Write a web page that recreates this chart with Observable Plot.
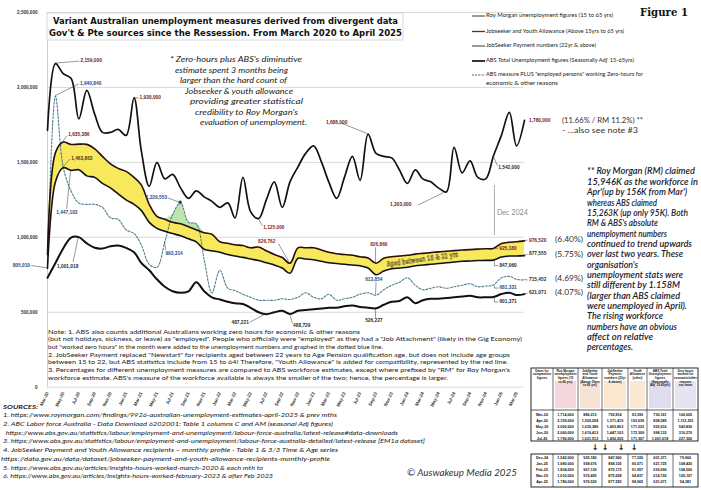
<!DOCTYPE html>
<html><head><meta charset="utf-8">
<script src="https://cdn.jsdelivr.net/npm/d3@7"></script>
<script src="https://cdn.jsdelivr.net/npm/@observablehq/plot@0.6"></script>
<style>body{margin:0;background:#fff}#c{width:701px;height:490px;overflow:hidden}</style>
</head><body><div id="c"></div>
<script>
// ---- data (monthly, Mar-2020 .. Apr-2025) ----
const startMonth = new Date(Date.UTC(2020, 2, 1));
const endMonth = new Date(Date.UTC(2025, 4, 1));
const dates = d3.utcMonth.range(startMonth, endMonth); // 62 months

const royMorgan = [1714000,2159000,2092000,2060000,1790000,1980000,1820000,1700000,1700000,1720000,
 1680000,1930000,1580000,1340000,1500000,1390000,1420000,1330000,1260000,1310000,
 1270000,1240000,1200000,1230000,1130000,1400000,1170000,1125000,1250000,1370000,
 1200000,1370000,1470000,1560000,1610000,1500000,1370000,1260000,1400000,1540000,
 1380000,1688000,1560000,1540000,1530000,1450000,1360000,1450000,1390000,1370000,
 1330000,1303000,1600000,1430000,1510000,1400000,1390000,1542000,1680000,1834000,
 1610000,1780000];
const jobseekerYouth = [886213,1565058,1635386,1619412,1621512,1620000,1590000,1540000,1490000,1460000,
 1440000,1400000,1350000,1220000,1140000,1120000,1100000,1090000,1070000,1050000,
 1030000,1020000,970000,960000,950000,945000,930000,935000,910000,885000,
 865000,826762,930000,930000,930000,915000,900000,890000,885000,880000,
 870000,862000,826860,860000,870000,875000,880000,888000,893000,898000,
 903000,907000,911000,915000,918000,921000,924000,925180,958676,967130,
 970495,976520];
const jobseeker = [792814,1371419,1463863,1447103,1450205,1410000,1400000,1360000,1330000,1290000,
 1250000,1220000,1180000,1100000,1060000,1040000,1025000,1010000,990000,970000,
 920000,910000,900000,885000,875000,866000,855000,845000,830000,815000,
 795000,760000,860000,855000,850000,840000,830000,825000,820000,815000,
 810000,795000,750000,775000,790000,795000,800000,810000,815000,820000,
 825000,830000,835000,840000,842000,845000,846000,847960,868105,875173,
 875658,877555];
const absPlusZeroHours = [830766,1940840,1469446,1308403,1228318,1220000,1220000,1200000,1130000,1120000,
 1050000,1025000,950000,820000,800000,970000,1150000,1229553,1100000,1090000,
 850000,630000,780000,660000,645000,620000,600000,580000,580000,580000,
 590000,585000,600000,630000,600000,590000,620000,580000,590000,600000,
 620000,630000,613854,650000,680000,700000,730000,680000,650000,660000,
 670000,660000,670000,680000,690000,670000,675000,681331,730145,739196,
 719833,715452];
const absTotal = [730161,828589,925616,998133,1001018,960000,930000,925000,940000,945000,
 930000,900000,830000,780000,720000,670000,640000,630000,640000,700000,
 640000,600000,585000,570000,560000,555000,530000,500000,487221,500000,
 510000,488729,510000,515000,520000,525000,530000,530000,540000,545000,
 535000,530000,526227,550000,570000,575000,600000,560000,580000,590000,
 590000,595000,600000,605000,610000,600000,600000,601371,621725,630696,
 614726,621071];
const yTicks = [0, 500000, 1000000, 1500000, 2000000, 2500000];
const xTicks = dates.filter((d, i) => i % 2 === 0 && i <= 60);
const endPercents = {jsya: "(6.40%)", js: "(5.75%)", absPlus: "(4.69%)", abs: "(4.07%)"};

const rows = dates.map((d, i) => ({date: d, rm: royMorgan[i], jsya: jobseekerYouth[i], js: jobseeker[i],
  absPlus: absPlusZeroHours[i], abs: absTotal[i]}));
const greenRows = rows.slice(15, 21);

const fmt = d3.format(",");
const plot = Plot.plot({
  width: 701, height: 490,
  marginLeft: 47, marginRight: 177, marginTop: 12, marginBottom: 103.3,
  style: {background: "#fff", overflow: "visible"},
  x: {type: "utc", domain: [dates[0], dates[61]], axis: null},
  y: {domain: [0, 2500000], axis: null},
  marks: [
    Plot.ruleY(yTicks, {stroke: "#d2d2d2", strokeWidth: 0.8}),
    Plot.ruleX([dates[0]], {stroke: "#c4c4c4", strokeWidth: 0.8}),
    Plot.areaY(rows, {x: "date", y1: "js", y2: "jsya", fill: "#f7e85c", curve: "catmull-rom"}),
    Plot.areaY(greenRows, {x: "date", y1: "jsya", y2: d => Math.max(d.jsya, d.absPlus), fill: "#bde6ad", curve: "catmull-rom"}),
    Plot.line(rows, {x: "date", y: "absPlus", stroke: "#4f7f8e", strokeWidth: 1.1, strokeDasharray: "2,1.6", curve: "catmull-rom"}),
    Plot.line(rows, {x: "date", y: "jsya", stroke: "#2a0d0d", strokeWidth: 1.6, curve: "catmull-rom"}),
    Plot.line(rows, {x: "date", y: "js", stroke: "#111", strokeWidth: 1.6, curve: "catmull-rom"}),
    Plot.line(rows, {x: "date", y: "abs", stroke: "#111", strokeWidth: 2, curve: "catmull-rom"}),
    Plot.line(rows, {x: "date", y: "rm", stroke: "#111", strokeWidth: 1.7, curve: "catmull-rom"}),
    Plot.text(yTicks, {x: () => dates[0], y: d => d, text: d => fmt(d), textAnchor: "end", dx: -10,
      fontSize: 4.6, fontWeight: "bold", fill: "#333", fontFamily: "Liberation Sans"}),
    Plot.text(xTicks, {x: d => d, y: () => 0, text: d => d3.utcFormat("%b-%y")(d), rotate: -65, textAnchor: "end",
      dy: 5, fontSize: 4.6, fontWeight: "bold", fill: "#333", fontFamily: "Liberation Sans"})
  ]
});
document.getElementById("c").appendChild(plot);

const svg = d3.select(plot);
const xs = plot.scale("x"), ys = plot.scale("y");
const X = d => xs.apply(d), Y = v => ys.apply(v);
const g = svg.append("g").attr("text-anchor", "start");

function txt(s, x, y, o = {}) {
  const t = g.append("text").attr("x", x).attr("y", y).text(s)
    .attr("font-family", o.ff || "Lato, sans-serif").attr("font-size", o.fs || 6)
    .attr("fill", o.fill || "#222").attr("dominant-baseline", "middle")
    .attr("text-anchor", o.anchor || "start");
  if (o.fw) t.attr("font-weight", o.fw);
  if (o.fi) t.attr("font-style", "italic");
  if (o.w) t.attr("textLength", o.w).attr("lengthAdjust", "spacingAndGlyphs");
  if (o.rot) t.attr("transform", `rotate(${o.rot},${x},${y})`);
  if (o.stroke) t.attr("stroke", o.stroke).attr("stroke-width", o.sw || 0.4);
  return t;
}
function ln(x1, y1, x2, y2, stroke = "#333", w = 0.5, dash) {
  const l = g.append("line").attr("x1", x1).attr("y1", y1).attr("x2", x2).attr("y2", y2)
    .attr("stroke", stroke).attr("stroke-width", w);
  if (dash) l.attr("stroke-dasharray", dash);
  return l;
}

// title box
g.append("rect").attr("x", 47).attr("y", 13).attr("width", 356).attr("height", 27)
  .attr("fill", "#fff").attr("stroke", "#cfcfcf").attr("stroke-width", 0.8);
txt("Variant Australian unemployment measures derived from divergent data", 53, 21.7,
  {ff: "DejaVu Sans", fw: "bold", fs: 8.6, w: 345, fill: "#111"});
txt("Gov't & Pte sources since the Ressession. From March 2020 to April 2025", 49, 33.4,
  {ff: "DejaVu Sans", fw: "bold", fs: 8.6, w: 353, fill: "#111"});

txt("Figure 1", 640, 12.5, {ff: "DejaVu Serif", fw: "bold", fs: 10.5, w: 48, fill: "#111"});

// legend
const legendItems = [
  {y: 16, t: "Roy Morgan unemployment figures (15 to 65 yrs)", w: 127, stroke: "#222", sw: 0.9},
  {y: 31.5, t: "Jobseeker and Youth Allowance (Above 15yrs to 65 yrs)", w: 138, stroke: "#8b1a1a", sw: 1.3},
  {y: 46, t: "JobSeeker Payment numbers (22yr & above)", w: 110, stroke: "#222", sw: 0.9},
  {y: 61, t: "ABS Total Unemployment figures (Seasonally Adj' 15-65yrs)", w: 148, stroke: "#111", sw: 1.7},
  {y: 75, t: "ABS measure PLUS \"employed persons\" working Zero-hours for", w: 157, stroke: "#333", sw: 0.8, dash: "2,1.2"},
  {y: 84, t: "economic & other reasons", w: 72}
];
legendItems.forEach(it => {
  if (it.stroke) ln(472, it.y, 485, it.y, it.stroke, it.sw, it.dash);
  txt(it.t, 486, it.y, {fs: 5.2, w: it.w, fill: "#222"});
});

// italic annotation
const noteLines = [
  ["* Zero-hours plus ABS's diminutive", 170, 60, 132],
  ["estimate spent 3 months being", 175, 70.5, 113],
  ["larger than the hard count of", 180, 81, 107],
  ["Jobseeker & youth allowance", 185, 91.5, 108],
  ["providing greater statistical", 190, 102, 113],
  ["credibility to Roy Morgan's", 195, 112.5, 103],
  ["evaluation of unemployment.", 200, 123, 107]
];
noteLines.forEach(([t, x, y, w]) => txt(t, x, y, {fi: true, fs: 8, w, fill: "#222"}));

// Dec 2024 marker
const xDec = X(dates[57]);
ln(xDec + 1.5, 185, xDec + 1.5, 235, "#9a9a9a", 0.8);
txt("Dec 2024", xDec + 4, 213, {fs: 7, fill: "#8a8a8a", w: 31});

// band label
const iB = 48;
txt("Aged between 15 & 22 yrs", X(dates[iB]), Y((jobseekerYouth[iB] + jobseeker[iB]) / 2) + 1,
  {ff: "DejaVu Sans", fw: "bold", fs: 7, anchor: "middle", rot: -8, w: 72, fill: "#efe070", stroke: "#3d3520", sw: 0.45});

// callouts
const series = {rm: royMorgan, jsya: jobseekerYouth, js: jobseeker, absPlus: absPlusZeroHours, abs: absTotal};
const RED = "#6e1c1c", BLUE = "#2a4a85", DARK = "#2a2a2a";
const callouts = [
  {s: "rm", i: 1, t: "2,159,000", dx: 25.5, dy: -2, lx: 24.5, ly: -2, c: RED},
  {s: "absPlus", i: 1, t: "1,940,840", dx: 25, dy: -12, lx: 24, ly: -12, c: BLUE},
  {s: "rm", i: 11, t: "1,930,000", dx: 6, dy: 0.5, lx: 5, ly: 0.5, c: RED},
  {s: "jsya", i: 2, t: "1,635,386", dx: 5.5, dy: -6.5, lx: 4.5, ly: -6, c: RED},
  {s: "js", i: 2, t: "1,463,863", dx: 8.5, dy: -9, lx: 7.5, ly: -8.5, c: "#4a3a10"},
  {s: "js", i: 3, t: "1,447,103", dx: -14.5, dy: 43, lx: -4, ly: 39, c: BLUE},
  {s: "js", i: 0, t: "805,010", dx: -17, dy: -2.4, lx: -16, ly: -2.4, c: BLUE, a: "end"},
  {s: "abs", i: 4, t: "1,001,018", dx: -21.3, dy: 30.3, lx: -5.3, ly: 25.3, c: DARK},
  {s: "absPlus", i: 17, t: "1,229,553", dx: -13, dy: -4.4, lx: -12, ly: -4.4, c: BLUE, a: "end"},
  {s: "absPlus", i: 15, t: "993,314", dx: 1, dy: 12.7, lx: 1.5, ly: 8.7, c: BLUE},
  {s: "rm", i: 27, t: "1,125,000", dx: 5, dy: 10, lx: 4, ly: 7.5, c: "#8b2020"},
  {s: "jsya", i: 31, t: "826,762", dx: -31.4, dy: -20.8, lx: -11, ly: -19, c: "#8b2020"},
  {s: "rm", i: 41, t: "1,688,000", dx: -41.6, dy: -10.7, lx: -26.5, ly: -10.7, c: RED},
  {s: "rm", i: 51, t: "1,303,000", dx: -55.8, dy: 13.6, lx: -27.6, ly: 13.6, c: RED},
  {s: "jsya", i: 42, t: "826,860", dx: -5.4, dy: -17.8, lx: 0, ly: -15.5, c: "#8b2020"},
  {s: "absPlus", i: 42, t: "613,854", dx: -10.4, dy: -14.7, lx: 0.5, ly: -12.5, c: BLUE},
  {s: "abs", i: 28, t: "487,221", dx: -17, dy: 9.3, lx: -16, ly: 8.5, c: DARK, a: "end"},
  {s: "abs", i: 31, t: "488,729", dx: 3.6, dy: 12.5, lx: 3, ly: 10, c: DARK},
  {s: "abs", i: 42, t: "526,227", dx: -10.4, dy: 13.2, lx: 0, ly: 10.5, c: DARK},
  {s: "rm", i: 57, t: "1,542,000", dx: 5.3, dy: 12.4, lx: 4.5, ly: 10, c: DARK},
  {s: "rm", i: 61, t: "1,780,000", dx: 5, dy: 1, c: RED},
  {s: "jsya", i: 57, t: "925,180", dx: 6.3, dy: 1, lx: 5, ly: 0.5, c: RED},
  {s: "js", i: 57, t: "847,960", dx: 6.5, dy: 6, lx: 5.5, ly: 6, c: DARK, L: true},
  {s: "absPlus", i: 57, t: "681,331", dx: 6.5, dy: 3.5, lx: 5.5, ly: 3.5, c: BLUE, L: true},
  {s: "abs", i: 57, t: "601,371", dx: 6.5, dy: 5.5, lx: 5.5, ly: 5.5, c: DARK, L: true},
  {s: "jsya", i: 61, t: "976,520", dx: 5, dy: 0, lx: 3.5, ly: 0, c: RED},
  {s: "js", i: 61, t: "877,555", dx: 5, dy: -1, lx: 3.5, ly: -1, c: DARK},
  {s: "absPlus", i: 61, t: "715,452", dx: 5, dy: 0.5, lx: 3.5, ly: 0.5, c: DARK},
  {s: "abs", i: 61, t: "621,071", dx: 5, dy: -0.5, lx: 3.5, ly: -0.5, c: DARK}
];
callouts.forEach(c => {
  const px = X(dates[c.i]), py = Y(series[c.s][c.i]);
  if (c.lx !== undefined) {
    if (c.L) {
      g.append("path").attr("d", `M${px + 1.5},${py + 1}V${py + c.ly}H${px + c.lx}`)
        .attr("fill", "none").attr("stroke", "#333").attr("stroke-width", 0.5);
    } else ln(px, py, px + c.lx, py + c.ly, "#333", 0.5);
  }
  txt(c.t, px + c.dx, py + c.dy, {ff: "Liberation Sans", fw: "bold", fs: 4.8, fill: c.c, anchor: c.a});
});
// asterisk on the dashed-series peak
txt("*", X(dates[17]), Y(absPlusZeroHours[17]) + 2, {ff: "DejaVu Sans", fw: "bold", fs: 8, anchor: "middle", fill: "#222"});

// end percentages
Object.entries(endPercents).forEach(([k, p]) => {
  txt(p, X(dates[61]) + 31, Y(series[k][61]), {fs: 7.4, fill: "#333", w: 28});
});
txt("(11.66% / RM 11.2%) **", X(dates[61]) + 38, 120.5, {fs: 8, fill: "#333", w: 81});
txt("- ...also see note #3", X(dates[61]) + 38, 131, {fs: 8, fill: "#333", w: 76});

// right paragraph
const para = [
  ["** Roy Morgan (RM) claimed", 108], ["15,946K as the workforce in", 111], ["Apr'(up by 156K from Mar')", 100],
  ["whereas ABS claimed", 70], ["15,263K (up only 95K). Both", 101], ["RM & ABS's absolute", 71],
  ["unemployment numbers", 80], ["continued to trend upwards", 105], ["over last two years. These", 96],
  ["organisation's", 51], ["unemployment stats were", 96], ["still different by 1.158M", 93],
  ["(larger than ABS claimed", 93], ["were unemployed in April).", 100], ["The rising workforce", 76],
  ["numbers have an obvious", 90], ["affect on relative", 66], ["percentages.", 46]
];
para.forEach(([t, w], k) => txt(t, 587, 172.3 + 10.35 * k, {fi: true, fs: 8.6, w, fw: 600, fill: "#1a1a2c"}));

// notes inside plot
const notes = [
  ["Note: 1. ABS also counts additional Australians working zero hours for economic & other reasons", 312],
  ["(but not holidays, sickness, or leave) as \"employed\". People who officially were \"employed\" as they had a \"Job Attachment\" (likely in the Gig Economy)", 474],
  ["but \"worked zero hours\" in the month were added to the unemployment numbers and graphed in the dotted blue line.", 335],
  ["2. JobSeeker Payment replaced \"Newstart\" for recipients aged between 22 years to Age Pension qualification age, but does not include age groups", 462],
  ["between 15 to 22, but ABS statistics include from 15 to 64! Therefore, \"Youth Allowance\" is added for compatibility, represented by the red line.", 460],
  ["3. Percentages for different unemployment measures are compared to ABS workforce estimates, except where prefixed by \"RM\" for Roy Morgan's", 462],
  ["workforce estimate. ABS's measure of the workforce available is always the smaller of the two; hence, the percentage is larger.", 400]
];
notes.forEach(([t, w], k) => txt(t, 48, 332 + 7.7 * k, {fs: 6, w, fill: "#222"}));

// sources
const sources = [
  ["SOURCES:", 3, 35, true],
  ["1. https://www.roymorgan.com/findings/9926-australian-unemployment-estimates-april-2025 & prev mths", 3, 334],
  ["2. ABC Labor force Australia - Data Download 6202001: Table 1 columns C and AM (seasonal Adj figures)", 3, 330],
  [" https://www.abs.gov.au/statistics/labour/employment-and-unemployment/labour-force-australia/latest-release#data-downloads", 4, 394],
  ["3. https://www.abs.gov.au/statistics/labour/employment-and-unemployment/labour-force-australia-detailed/latest-release [EM1a dataset]", 3, 422],
  ["4. JobSeeker Payment and Youth Allowance recipients \u2013 monthly profile - Table 1 & 3/3 Time & Age series", 3, 335],
  ["https://data.gov.au/data/dataset/jobseeker-payment-and-youth-allowance-recipients-monthly-profile", 1, 329],
  ["5. https://www.abs.gov.au/articles/insights-hours-worked-march-2020 & each mth to", 3, 260],
  ["6. https://www.abs.gov.au/articles/insights-hours-worked-february-2023 & after Feb 2023", 3, 270]
];
sources.forEach(([t, x, w, b], k) => txt(t, x, 407 + 8.72 * k, {fi: true, fs: 6.2, w, fill: "#222", fw: b ? "bold" : null}));

txt("\u00a9 Auswakeup Media 2025", 407, 474, {fi: true, fs: 9.5, w: 110, fill: "#333"});

// table
const colX = [531, 553, 578, 602, 628, 647, 673, 698];
const headers = [
  ["Dates for", "comparative", "figures"],
  ["Roy Morgan", "unemployment", "figures (15", "to 65 yrs)"],
  ["JobSeeker", "and Youth", "Allowance", "(Above 15yrs", "to 65 yrs)"],
  ["JobSeeker", "Payment", "numbers (22yr", "& above)"],
  ["Youth", "Allowance", "(other)"],
  ["ABS Total", "Unemployment", "figures", "(Seasonally", "Adj' 15-65yrs)"],
  ["Zero hours", "worked for", "economic/other", "reasons", "not leave"]
];
const headFill = [null, "#f3d7dc", "#f8e2d6", "#fbe6d0", "#fbe8d2", "#dfdcf0", "#e6e3f3"];
const tg = g.append("g");
headFill.forEach((f, k) => {
  if (f) tg.append("rect").attr("x", colX[k] + 2).attr("y", 381).attr("width", colX[k + 1] - colX[k] - 4)
    .attr("height", 27).attr("fill", f);
});
function tableFrame(y0, y1, yLines) {
  tg.append("rect").attr("x", colX[0]).attr("y", y0).attr("width", colX[7] - colX[0]).attr("height", y1 - y0)
    .attr("fill", "none").attr("stroke", "#111").attr("stroke-width", 0.9);
  colX.slice(1, 7).forEach(x => ln(x, y0, x, y1, "#111", 0.6));
  yLines.forEach(y => ln(colX[0], y, colX[7], y, "#111", 0.7));
}
tableFrame(368, 441, [410]);
tableFrame(454, 487, []);
headers.forEach((hs, k) => {
  const cx = (colX[k] + colX[k + 1]) / 2;
  hs.forEach((h, j) => txt(h, cx, 371 + 3.6 * j, {ff: "Liberation Sans", fw: "bold", fs: 3.1, anchor: "middle", fill: "#111"}));
});
const tableIdx = [[0, 1, 2, 3, 4], [57, 58, 59, 60, 61]];
const tableY0 = [415, 458];
tableIdx.forEach((idxs, b) => {
  idxs.forEach((i, r) => {
    const y = tableY0[b] + r * 5.9;
    const vals = [d3.utcFormat("%b-%y")(dates[i]), fmt(royMorgan[i]), fmt(jobseekerYouth[i]), fmt(jobseeker[i]),
      fmt(jobseekerYouth[i] - jobseeker[i]), fmt(absTotal[i]), fmt(absPlusZeroHours[i] - absTotal[i])];
    vals.forEach((v, k) => txt(v, (colX[k] + colX[k + 1]) / 2, y,
      {ff: "Liberation Sans", fw: "bold", fs: 3.7, anchor: "middle", fill: "#111"}));
  });
});
[595, 605, 621, 634].forEach(x => txt("\u2193", x, 447.5, {ff: "DejaVu Sans", fw: "bold", fs: 8, anchor: "middle", fill: "#111"}));
</script>
</body></html>
